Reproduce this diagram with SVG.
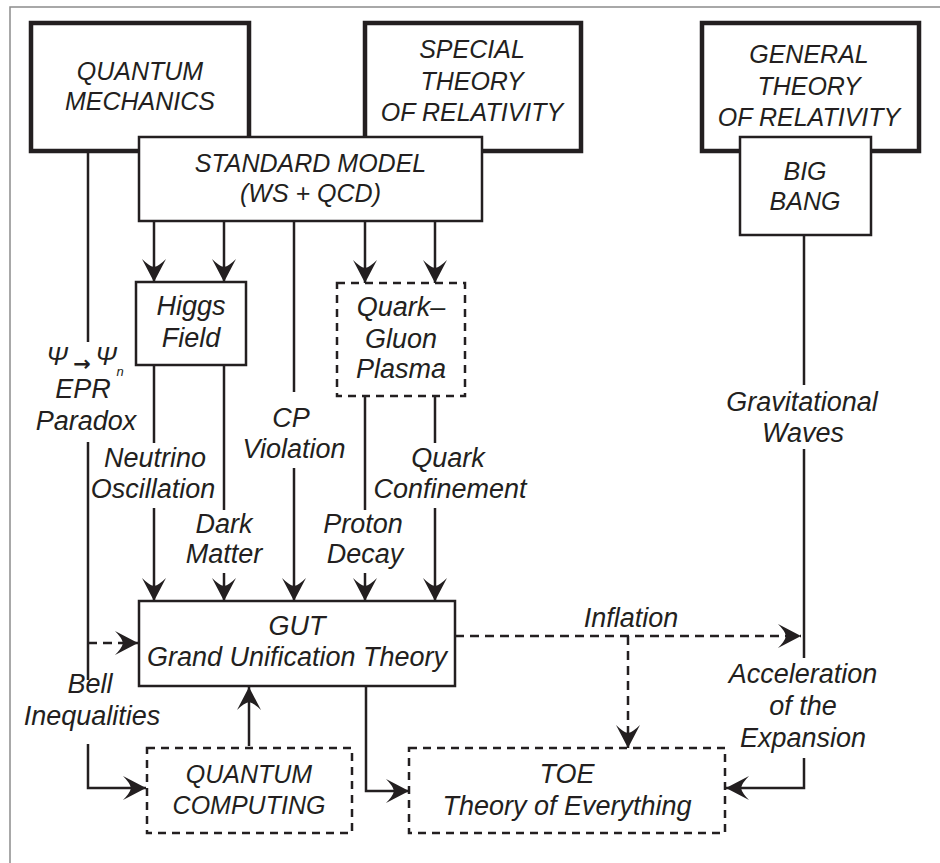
<svg xmlns="http://www.w3.org/2000/svg" width="940" height="863" viewBox="0 0 940 863">
  <style>
    .t { font-family: "Liberation Sans", Arial, sans-serif; font-style: italic; fill: #231f20; text-anchor: middle; }
    .c { font-size: 25px; }
    .m { font-size: 27px; }
    .thick { fill: #fff; stroke: #231f20; stroke-width: 4.5; }
    .box { fill: #fff; stroke: #231f20; stroke-width: 2.5; }
    .dbox { fill: #fff; stroke: #231f20; stroke-width: 2.5; stroke-dasharray: 8 6; }
    .ln { fill: none; stroke: #231f20; stroke-width: 2.5; }
    .dl { fill: none; stroke: #231f20; stroke-width: 2.5; stroke-dasharray: 9 6; }
  </style>
  <defs>
    <marker id="ah" viewBox="-24 -13 26 26" refX="0" refY="0" markerWidth="26" markerHeight="26" markerUnits="userSpaceOnUse" orient="auto">
      <path d="M0,0 L-23,-12 Q-16,-5 -15,0 Q-16,5 -23,12 Z" fill="#231f20" stroke="none"/>
    </marker>
  </defs>

  <rect x="10" y="7" width="960" height="900" fill="#fff" stroke="#8c8c8c" stroke-width="1.5"/>

  <g id="quantum-mechanics">
    <rect class="thick" x="31" y="23" width="218" height="128"/>
    <text class="t c" x="140" y="80">QUANTUM</text>
    <text class="t c" x="140" y="110">MECHANICS</text>
  </g>

  <g id="special-relativity">
    <rect class="thick" x="365" y="23" width="216" height="128"/>
    <text class="t c" x="472" y="58">SPECIAL</text>
    <text class="t c" x="472" y="90">THEORY</text>
    <text class="t c" x="472" y="121">OF RELATIVITY</text>
  </g>

  <g id="general-relativity">
    <rect class="thick" x="702" y="23" width="217" height="128"/>
    <text class="t c" x="809" y="63">GENERAL</text>
    <text class="t c" x="809" y="95">THEORY</text>
    <text class="t c" x="809" y="126">OF RELATIVITY</text>
  </g>

  <g id="standard-model">
    <rect class="box" x="139" y="137" width="343" height="84"/>
    <text class="t c" x="310.5" y="172">STANDARD MODEL</text>
    <text class="t c" x="310.5" y="202">(WS + QCD)</text>
  </g>

  <g id="big-bang">
    <rect class="box" x="740" y="137" width="131" height="98"/>
    <text class="t c" x="805" y="180">BIG</text>
    <text class="t c" x="805" y="210">BANG</text>
  </g>

  <g id="higgs-field">
    <rect class="box" x="136" y="282" width="110" height="83"/>
    <text class="t m" x="191" y="315">Higgs</text>
    <text class="t m" x="191" y="347">Field</text>
  </g>

  <g id="quark-gluon-plasma">
    <rect class="dbox" x="337" y="283" width="128" height="113"/>
    <text class="t m" x="401" y="316">Quark–</text>
    <text class="t m" x="401" y="348">Gluon</text>
    <text class="t m" x="401" y="378">Plasma</text>
  </g>

  <g id="gut">
    <rect class="box" x="139" y="601" width="316" height="85"/>
    <text class="t m" x="297" y="635">GUT</text>
    <text class="t m" x="297" y="666">Grand Unification Theory</text>
  </g>

  <g id="quantum-computing">
    <rect class="dbox" x="147" y="748" width="205" height="85"/>
    <text class="t c" x="249" y="783">QUANTUM</text>
    <text class="t c" x="249" y="814">COMPUTING</text>
  </g>

  <g id="toe">
    <rect class="dbox" x="409" y="748" width="316" height="85"/>
    <text class="t m" x="567" y="783">TOE</text>
    <text class="t m" x="567" y="815">Theory of Everything</text>
  </g>

  <g id="connectors">
    <!-- quantum mechanics branch -->
    <path class="ln" d="M88,151 V342 M88,442 V680"/>
    <path class="ln" d="M88,744 V788 H146" marker-end="url(#ah)"/>
    <path class="dl" d="M88,643 H138" marker-end="url(#ah)"/>
    <!-- standard model outputs -->
    <path class="ln" d="M154,221 V282" marker-end="url(#ah)"/>
    <path class="ln" d="M224,221 V282" marker-end="url(#ah)"/>
    <path class="ln" d="M365,221 V283" marker-end="url(#ah)"/>
    <path class="ln" d="M435,221 V283" marker-end="url(#ah)"/>
    <path class="ln" d="M294,221 V392"/>
    <path class="ln" d="M294,468 V601" marker-end="url(#ah)"/>
    <!-- higgs field outputs -->
    <path class="ln" d="M154,365 V443"/>
    <path class="ln" d="M154,508 V601" marker-end="url(#ah)"/>
    <path class="ln" d="M224,365 V510"/>
    <path class="ln" d="M224,573 V601" marker-end="url(#ah)"/>
    <!-- quark-gluon plasma outputs -->
    <path class="ln" d="M365,396 V510"/>
    <path class="ln" d="M365,573 V601" marker-end="url(#ah)"/>
    <path class="ln" d="M435,396 V443"/>
    <path class="ln" d="M435,508 V601" marker-end="url(#ah)"/>
    <!-- quantum computing to GUT -->
    <path class="ln" d="M249,746 V687" marker-end="url(#ah)"/>
    <!-- GUT to TOE -->
    <path class="ln" d="M366,686 V791 H409" marker-end="url(#ah)"/>
    <!-- inflation -->
    <path class="dl" d="M455,636 H801" marker-end="url(#ah)"/>
    <path class="dl" d="M628,636 V748" marker-end="url(#ah)"/>
    <!-- big bang branch -->
    <path class="ln" d="M804,235 V385 M804,449 V658"/>
    <path class="ln" d="M804,758 V788 H726" marker-end="url(#ah)"/>
  </g>

  <g id="labels">
    <text class="t" style="font-size:26px" x="57" y="365">Ψ</text>
    <text style="font-family:'DejaVu Sans',sans-serif;font-size:21px;font-weight:bold;fill:#231f20;text-anchor:middle" x="82" y="371">→</text>
    <text class="t" style="font-size:26px" x="106" y="365">Ψ</text>
    <text class="t" style="font-size:13px" x="120" y="376">n</text>
    <text class="t m" x="83" y="398">EPR</text>
    <text class="t m" x="86" y="430">Paradox</text>

    <text class="t m" x="155" y="467">Neutrino</text>
    <text class="t m" x="153" y="498">Oscillation</text>
    <text class="t m" x="224" y="533">Dark</text>
    <text class="t m" x="224" y="563">Matter</text>
    <text class="t m" x="291" y="427">CP</text>
    <text class="t m" x="294" y="458">Violation</text>
    <text class="t m" x="363" y="533">Proton</text>
    <text class="t m" x="365" y="563">Decay</text>
    <text class="t m" x="448" y="467">Quark</text>
    <text class="t m" x="450" y="498">Confinement</text>

    <text class="t m" x="90" y="693">Bell</text>
    <text class="t m" x="92" y="725">Inequalities</text>

    <text class="t m" x="802" y="411">Gravitational</text>
    <text class="t m" x="803" y="442">Waves</text>
    <text class="t m" x="631" y="627">Inflation</text>
    <text class="t m" x="803" y="683">Acceleration</text>
    <text class="t m" x="803" y="715">of the</text>
    <text class="t m" x="803" y="747">Expansion</text>
  </g>
</svg>
